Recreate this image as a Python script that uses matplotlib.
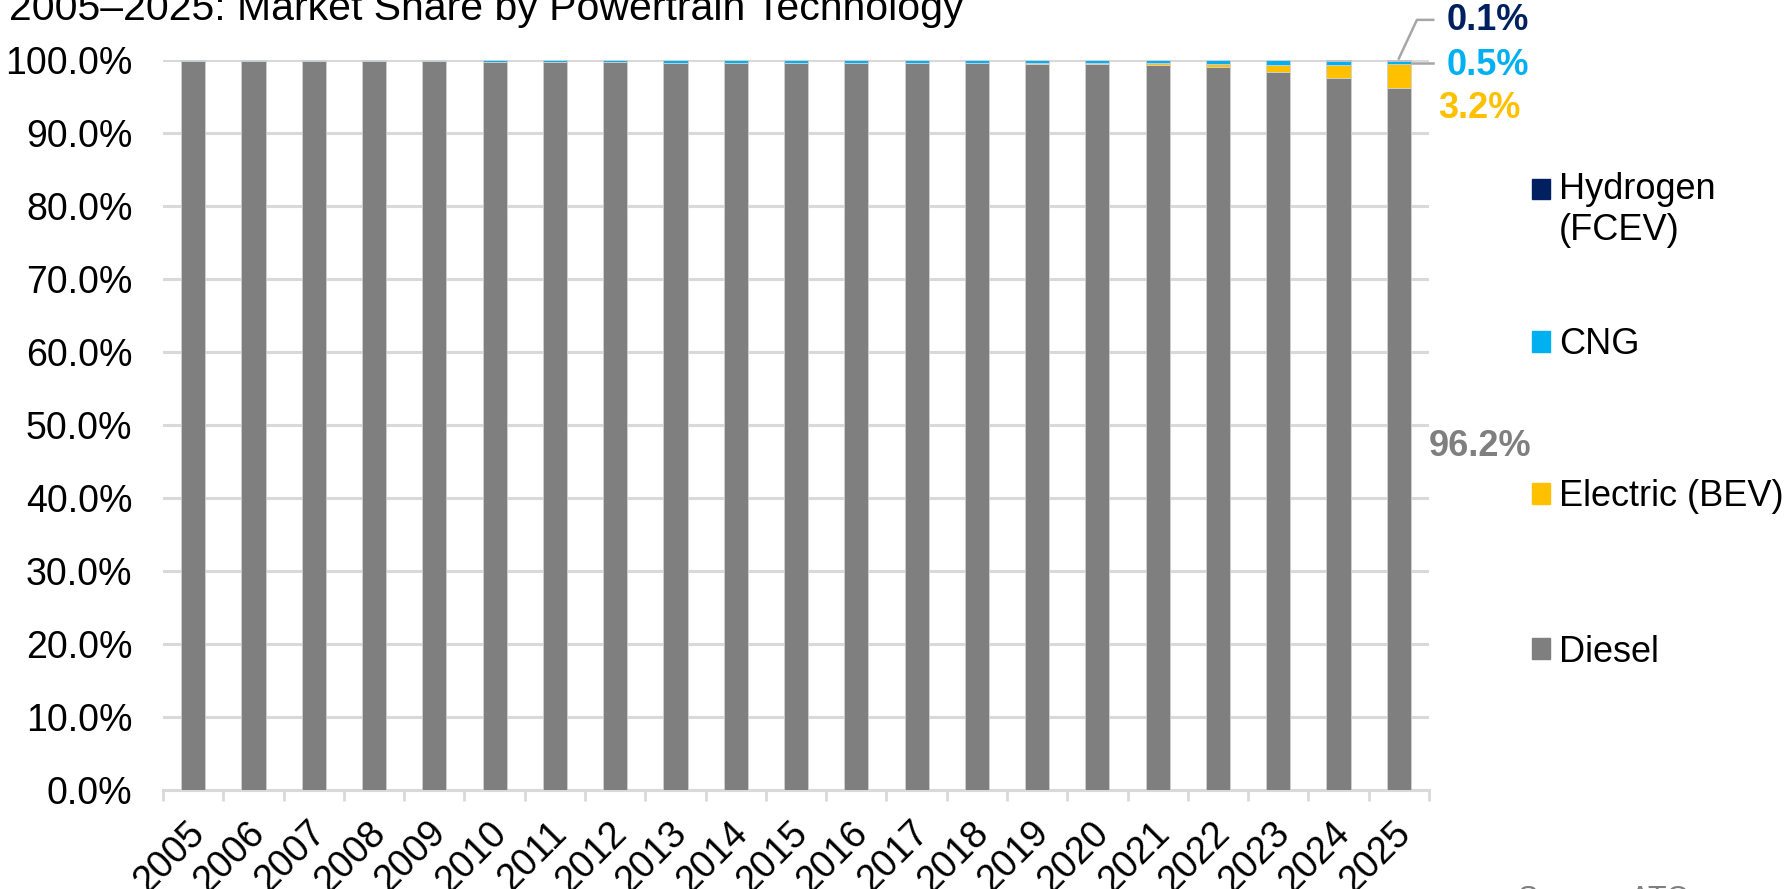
import matplotlib
matplotlib.use("Agg")
import matplotlib.pyplot as plt
from matplotlib.patches import Patch, Rectangle
from matplotlib.legend_handler import HandlerPatch
import matplotlib.transforms as mtransforms
import numpy as np

plt.rcParams['font.family'] = ['Liberation Sans', 'DejaVu Sans']

# --- data (market share, %) ---
years = [str(y) for y in range(2005, 2026)]
diesel = [99.9, 99.9, 99.8, 99.8, 99.8, 99.7, 99.7, 99.7, 99.6, 99.6, 99.6,
          99.6, 99.6, 99.6, 99.5, 99.5, 99.3, 99.0, 98.3, 97.5, 96.2]
electric = [0.0, 0.0, 0.0, 0.0, 0.0, 0.0, 0.0, 0.0, 0.0, 0.0, 0.0,
            0.0, 0.0, 0.05, 0.1, 0.1, 0.25, 0.5, 1.05, 1.8, 3.2]
cng = [0.1, 0.1, 0.2, 0.2, 0.2, 0.3, 0.3, 0.3, 0.4, 0.4, 0.35,
       0.35, 0.35, 0.35, 0.4, 0.4, 0.4, 0.45, 0.6, 0.6, 0.5]
hydrogen = [0.0, 0.0, 0.0, 0.0, 0.0, 0.0, 0.0, 0.0, 0.0, 0.0, 0.05,
            0.05, 0.05, 0.0, 0.0, 0.0, 0.05, 0.05, 0.05, 0.1, 0.1]

series = ['Diesel', 'Electric (BEV)', 'CNG', 'Hydrogen\n(FCEV)']
colors = ['#7F7F7F', '#FFC000', '#00B0F0', '#002060']

fig = plt.figure(figsize=(17.88, 8.89), dpi=100)
ax = fig.add_axes([0.0912, 0.1114, 0.7080, 0.8211])

x = np.arange(len(years))
bottom = np.zeros(len(years))
for name, vals, col in zip(series, [diesel, electric, cng, hydrogen], colors):
    ax.bar(x, vals, 0.4, bottom=bottom, color=col, edgecolor='#D0D0D0',
           linewidth=0.6, zorder=3)
    bottom += np.array(vals)

ax.set_xlim(-0.5, len(years) - 0.5)
ax.set_ylim(0, 100)
ax.set_yticks(np.arange(0, 101, 10))
ax.set_yticklabels([f"{v:.1f}%" for v in np.arange(0, 101, 10)], fontsize=27)
ax.tick_params(axis='y', length=0, pad=22)
ax.yaxis.grid(True, color='#D9D9D9', linewidth=2.2, zorder=0)
ax.set_axisbelow(True)

ax.set_xticks(x)
ax.set_xticklabels(years, fontsize=27, rotation=45, ha='right', va='center',
                   rotation_mode='anchor')
ax.tick_params(axis='x', which='major', length=0, pad=27)
shift = mtransforms.ScaledTranslation(6 / 100, 0, fig.dpi_scale_trans)
for lab in ax.get_xticklabels():
    lab.set_transform(lab.get_transform() + shift)
ax.set_xticks(np.arange(-0.5, len(years), 1), minor=True)
ax.tick_params(axis='x', which='minor', length=8, width=2, color='#D9D9D9')

for s in ['top', 'right', 'left']:
    ax.spines[s].set_visible(False)
ax.spines['bottom'].set_color('#D9D9D9')
ax.spines['bottom'].set_linewidth(2.2)

# leader lines and labels for the latest year
last = len(years) - 1
ax.plot([last, last + 0.3, last + 0.57], [100.2, 105.5, 105.5],
        color='#A6A6A6', linewidth=1.8, clip_on=False, zorder=4)
ax.plot([last + 0.22, last + 0.57], [99.6, 99.6],
        color='#A6A6A6', linewidth=1.8, clip_on=False, zorder=4)
ax.text(last + 0.8, 105.4, f"{hydrogen[-1]:.1f}%", color='#002060', fontsize=26,
        fontweight='bold', va='center', ha='left', clip_on=False)
ax.text(last + 0.8, 99.2, f"{cng[-1]:.1f}%", color='#00B0F0', fontsize=26,
        fontweight='bold', va='center', ha='left', clip_on=False)
ax.text(last + 0.66, 93.3, f"{electric[-1]:.1f}%", color='#FFC000', fontsize=26,
        fontweight='bold', va='center', ha='left', clip_on=False)
ax.text(last + 0.5, 47.0, f"{diesel[-1]:.1f}%", color='#7F7F7F', fontsize=26,
        fontweight='bold', va='center', ha='left', clip_on=False)


def top_patch(legend, orig_handle, xdescent, ydescent, width, height, fontsize):
    # marker beside the first line of a two-line label
    return Rectangle((-xdescent, -ydescent + 0.6 * fontsize), width, height)


# legend entries, spread down the right side as in the original
legend_y = [210, 345, 497, 652]
for name, col, ypix in zip(series[::-1], colors[::-1], legend_y):
    h = Patch(color=col, label=name)
    hmap = {h: HandlerPatch(patch_func=top_patch)} if '\n' in name else None
    fig.legend(handles=[h], loc='center left',
               bbox_to_anchor=(1532 / 1788, 1 - ypix / 889),
               frameon=False, fontsize=26, handlelength=0.5, handleheight=0.5,
               handletextpad=0.25, borderpad=0, borderaxespad=0,
               handler_map=hmap)

fig.text(0.005, 1 - 20 / 889, "2005\u20132025: Market Share by Powertrain Technology",
         fontsize=29.5, ha='left', va='baseline')
fig.text(0.849, 0.0045, "Source: ATO", fontsize=22, color='#7F7F7F',
         ha='left', va='top')

fig.savefig('out.png', dpi=100)
